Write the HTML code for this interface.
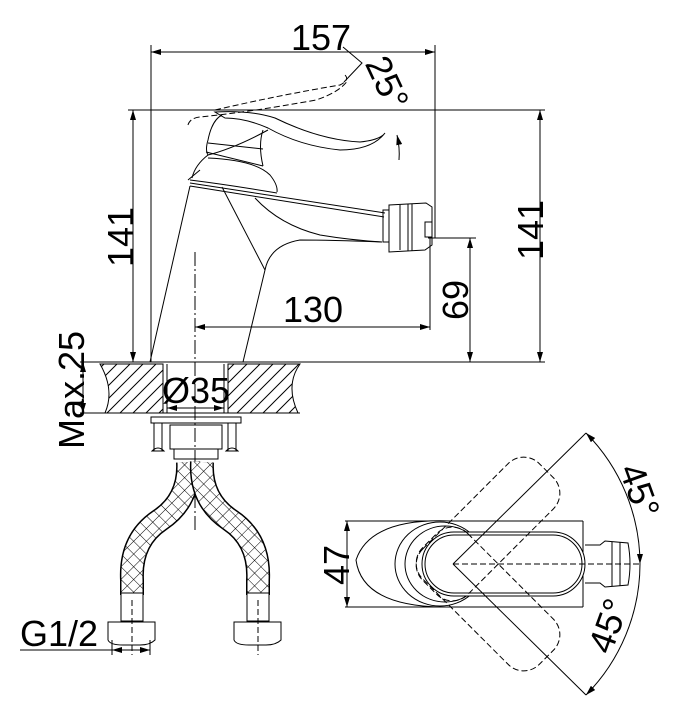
<!DOCTYPE html>
<html><head><meta charset="utf-8"><style>
html,body{margin:0;padding:0;background:#fff}
svg{display:block}
text{font-family:"Liberation Sans",sans-serif;fill:#000}
</style></head><body>
<svg width="685" height="720" viewBox="0 0 685 720" xmlns="http://www.w3.org/2000/svg">
<defs>
<pattern id="hatch" width="13" height="13" patternUnits="userSpaceOnUse">
<path d="M-1,1 L1,-1 M0,13 L13,0 M12,14 L14,12" stroke="#000" stroke-width="1"/>
</pattern>
<pattern id="xh" width="9" height="9" patternUnits="userSpaceOnUse" patternTransform="rotate(45)">
<rect width="9" height="9" fill="#fff"/>
<line x1="0" y1="0" x2="0" y2="9" stroke="#000" stroke-width="1"/>
<line x1="0" y1="0" x2="9" y2="0" stroke="#000" stroke-width="1"/>
</pattern>
<marker id="ar" viewBox="0 0 10 6" refX="10" refY="3" markerWidth="10" markerHeight="6" orient="auto-start-reverse" markerUnits="userSpaceOnUse">
<path d="M0,0 L10,3 L0,6 z" fill="#000"/>
</marker>
</defs>
<g fill="none" stroke="#000" stroke-width="1">
<line x1="151" y1="45" x2="151" y2="362"/>
<line x1="435" y1="45" x2="435" y2="238"/>
<line x1="151" y1="52" x2="435" y2="52" marker-start="url(#ar)" marker-end="url(#ar)"/>
<line x1="128" y1="110" x2="545" y2="110"/>
<line x1="133" y1="110" x2="133" y2="362" marker-start="url(#ar)" marker-end="url(#ar)"/>
<line x1="540" y1="110" x2="540" y2="362" marker-start="url(#ar)" marker-end="url(#ar)"/>
<line x1="428" y1="238" x2="476" y2="238"/>
<line x1="470" y1="238" x2="470" y2="362" marker-start="url(#ar)" marker-end="url(#ar)"/>
<line x1="195" y1="327" x2="430" y2="327" marker-start="url(#ar)" marker-end="url(#ar)"/>
<line x1="430" y1="238" x2="430" y2="330"/>
<line x1="80" y1="362" x2="545" y2="362"/>
<line x1="80" y1="413" x2="100" y2="413"/>
<path d="M343,47 L362,63 L344,82"/>
<path d="M397,135 Q400,148 399,160" marker-start="url(#ar)"/>
<path d="M215,110 Q280,95 340,85 Q350,80 345,75" stroke-dasharray="6,3"/>
<path d="M188,125 Q190,118 200,117 Q250,112 316,100 Q340,92 348,80" stroke-dasharray="6,3"/>
<path d="M215,112 Q250,110 275,118 Q320,140 360,142 Q380,140 385,133 Q372,150 340,150 Q300,146 268,128 Q245,118 225,118 Z"/>
<path d="M222,115 Q212,120 208,140 Q205,150 208,155 Q235,148 268,130"/>
<path d="M208,143 L263,149"/>
<path d="M206,152 L263,166"/>
<path d="M263,130 Q258,145 263,166"/>
<path d="M208,155 Q195,165 192,178"/>
<path d="M208,158 Q255,160 270,175 Q278,185 277,192"/>
<path d="M188,180 L200,170"/>
<path d="M190,180 Q230,185 277,193"/>
<path d="M190,183 L385,213"/>
<path d="M190,186 L384,217"/>
<path d="M255,198 Q280,225 320,235 Q350,240 382,242"/>
<path d="M382,242 Q330,240 300,240 Q270,245 265,270 L243,362"/>
<path d="M190,186 L150,362"/>
<path d="M222,187 L265,270"/>
<rect x="383" y="210" width="6" height="32"/>
<path d="M389,205 L426,203 L432,207 L432,245 L425,250 L389,252 Z"/>
<line x1="400" y1="205" x2="400" y2="250"/>
<line x1="408" y1="204" x2="408" y2="251"/>
<line x1="412" y1="204" x2="412" y2="251"/>
<rect x="425" y="222" width="7" height="15"/>
<path d="M100,364 Q115,390 105,413 L163,413 L163,364 Z" fill="url(#hatch)"/>
<path d="M228,364 L300,364 Q285,385 298,413 L228,413 Z" fill="url(#hatch)"/>
<line x1="100" y1="413" x2="300" y2="413"/>
<line x1="163" y1="364" x2="163" y2="413"/>
<line x1="167" y1="364" x2="167" y2="413"/>
<line x1="228" y1="364" x2="228" y2="413"/>
<line x1="224" y1="364" x2="224" y2="413"/>
<line x1="83" y1="362" x2="83" y2="413" marker-start="url(#ar)" marker-end="url(#ar)"/>
<line x1="167" y1="408" x2="224" y2="408" marker-start="url(#ar)" marker-end="url(#ar)"/>
<line x1="195" y1="252" x2="195" y2="530" stroke-dasharray="14,3,2,3"/>
<rect x="151" y="417" width="90" height="6"/>
<rect x="154" y="423" width="8" height="28"/>
<rect x="228" y="423" width="8" height="28"/>
<path d="M152,451 Q158,445 164,451 Z"/>
<path d="M226,451 Q232,445 238,451 Z"/>
<rect x="170" y="425" width="52" height="24"/>
<rect x="174" y="449" width="44" height="10"/>
<path d="M188,462 Q190,500 160,520 Q130,540 132,580 L132,595" stroke="#000" stroke-width="24"/>
<path d="M188,462 Q190,500 160,520 Q130,540 132,580 L132,595" stroke="url(#xh)" stroke-width="21"/>
<path d="M202,462 Q200,500 230,520 Q260,540 258,580 L258,595" stroke="#000" stroke-width="24"/>
<path d="M202,462 Q200,500 230,520 Q260,540 258,580 L258,595" stroke="url(#xh)" stroke-width="21"/>
<rect x="121" y="593" width="22" height="28" fill="#fff"/>
<rect x="247" y="593" width="22" height="28" fill="#fff"/>
<path d="M108,622 L155,622 L155,640 Q150,645 140,645 L123,645 Q110,645 108,640 Z" fill="#fff"/>
<path d="M234,622 L281,622 L281,640 Q276,645 266,645 L249,645 Q236,645 234,640 Z" fill="#fff"/>
<line x1="132" y1="600" x2="132" y2="655" stroke-dasharray="6,3"/>
<line x1="258" y1="600" x2="258" y2="655" stroke-dasharray="6,3"/>
<line x1="20" y1="650" x2="150" y2="650"/>
<line x1="112" y1="650" x2="150" y2="650" marker-start="url(#ar)" marker-end="url(#ar)"/>
<line x1="112" y1="640" x2="112" y2="655"/>
<line x1="150" y1="640" x2="150" y2="655"/>
<line x1="345" y1="521" x2="583" y2="521"/>
<line x1="345" y1="607" x2="583" y2="607"/>
<line x1="583" y1="521" x2="583" y2="607"/>
<line x1="347" y1="521" x2="347" y2="607" marker-start="url(#ar)" marker-end="url(#ar)"/>
<path d="M450,521 Q370,518 356,560 Q362,605 440,607" fill="#fff"/>
<ellipse cx="440" cy="564" rx="45" ry="42"/>
<ellipse cx="445" cy="564" rx="40" ry="38"/>
<rect x="422" y="532" width="163" height="64" rx="32" fill="#fff"/>
<rect x="425" y="535" width="157" height="58" rx="29"/>
<path d="M585,545 L600,545 L605,541 L628,543 Q632,564 628,585 L605,587 L600,583 L585,583"/>
<line x1="612" y1="542" x2="612" y2="586"/>
<line x1="620" y1="542" x2="620" y2="586"/>
<line x1="453" y1="564" x2="640" y2="564" stroke-dasharray="6,3"/>
<g transform="rotate(-45 453 564)">
<rect x="420" y="532" width="165" height="64" rx="22" stroke-dasharray="6,3"/>
</g>
<g transform="rotate(45 453 564)">
<rect x="420" y="532" width="165" height="64" rx="22" stroke-dasharray="6,3"/>
</g>
<line x1="453" y1="564" x2="586" y2="433"/>
<line x1="453" y1="564" x2="586" y2="695"/>
<path d="M586,433 A187,187 0 0 1 640,564" marker-start="url(#ar)" marker-end="url(#ar)"/>
<path d="M640,564 A187,187 0 0 1 586,695" marker-end="url(#ar)"/>
</g>
<g font-size="36">
<text x="291" y="50">157</text>
<text x="313" y="322" text-anchor="middle">130</text>
<text transform="translate(133,237) rotate(-90)" text-anchor="middle">141</text>
<text transform="translate(543,230) rotate(-90)" text-anchor="middle">141</text>
<text transform="translate(468,300) rotate(-90)" text-anchor="middle">69</text>
<text transform="translate(84,390) rotate(-90)" text-anchor="middle">Max.25</text>
<text x="196" y="403" text-anchor="middle">Ø35</text>
<text x="20" y="646">G1/2</text>
<text transform="translate(349,565) rotate(-90)" text-anchor="middle">47</text>
<text transform="translate(376,88) rotate(65)" text-anchor="middle">25°</text>
<text transform="translate(628,495) rotate(70)" text-anchor="middle">45°</text>
<text transform="translate(620,630) rotate(-70)" text-anchor="middle">45°</text>
</g>
</svg>
</body></html>
